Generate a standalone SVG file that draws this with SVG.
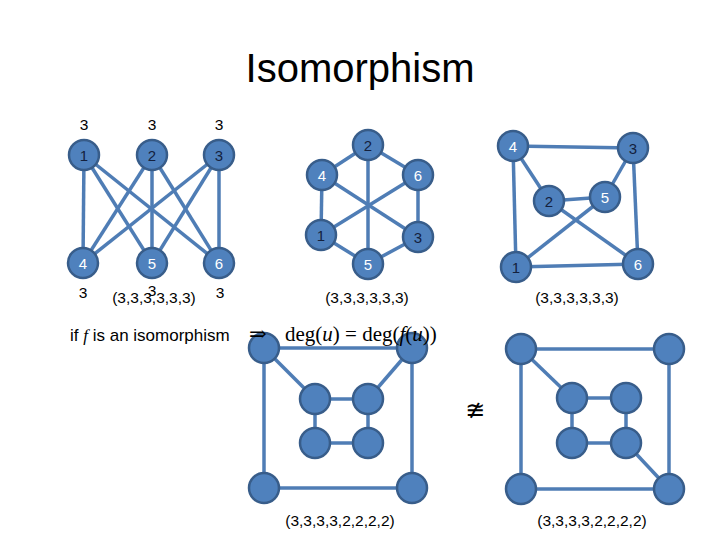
<svg xmlns="http://www.w3.org/2000/svg" width="720" height="540" viewBox="0 0 720 540">
<style>
.e{stroke:#4f7db5;stroke-width:3.5;fill:none}
.n{fill:#4f81bd;stroke:#385d8a;stroke-width:2.5}
.t{font-family:"Liberation Sans","Open Sans",sans-serif;font-size:15px;text-anchor:middle}
.d{fill:#14213d}
.w{fill:#ffffff}
.lab{font-family:"Liberation Sans","Open Sans",sans-serif;font-size:15.5px;fill:#000;text-anchor:middle}
.m{font-family:"Liberation Serif","DejaVu Serif",serif;font-size:21px;fill:#000}
</style>
<rect width="720" height="540" fill="#fff"/>
<text x="360" y="82" font-family="Liberation Sans,Open Sans,sans-serif" font-size="40" text-anchor="middle" fill="#000">Isomorphism</text>

<g id="connectors">
<!-- graph 1 K3,3 -->
<line class="e" x1="84" y1="155" x2="83" y2="263"/>
<line class="e" x1="84" y1="155" x2="152" y2="263"/>
<line class="e" x1="84" y1="155" x2="219" y2="263"/>
<line class="e" x1="152" y1="155" x2="83" y2="263"/>
<line class="e" x1="152" y1="155" x2="152" y2="263"/>
<line class="e" x1="152" y1="155" x2="219" y2="263"/>
<line class="e" x1="219" y1="155" x2="83" y2="263"/>
<line class="e" x1="219" y1="155" x2="152" y2="263"/>
<line class="e" x1="219" y1="155" x2="219" y2="263"/>
<!-- graph 2 -->
<line class="e" x1="368" y1="145" x2="322" y2="175"/>
<line class="e" x1="368" y1="145" x2="418" y2="175"/>
<line class="e" x1="368" y1="145" x2="368" y2="264"/>
<line class="e" x1="322" y1="175" x2="321" y2="235"/>
<line class="e" x1="322" y1="175" x2="418" y2="237"/>
<line class="e" x1="418" y1="175" x2="418" y2="237"/>
<line class="e" x1="418" y1="175" x2="321" y2="235"/>
<line class="e" x1="321" y1="235" x2="368" y2="264"/>
<line class="e" x1="368" y1="264" x2="418" y2="237"/>
<!-- graph 3 -->
<line class="e" x1="513" y1="146" x2="633" y2="148"/>
<line class="e" x1="513" y1="146" x2="549" y2="201"/>
<line class="e" x1="513" y1="146" x2="516" y2="267"/>
<line class="e" x1="633" y1="148" x2="605" y2="197"/>
<line class="e" x1="633" y1="148" x2="638" y2="264"/>
<line class="e" x1="549" y1="201" x2="605" y2="197"/>
<line class="e" x1="549" y1="201" x2="638" y2="264"/>
<line class="e" x1="605" y1="197" x2="516" y2="267"/>
<line class="e" x1="516" y1="267" x2="638" y2="264"/>
<!-- graph 4 -->
<line class="e" x1="264" y1="348" x2="412" y2="348"/>
<line class="e" x1="264" y1="348" x2="264" y2="488"/>
<line class="e" x1="412" y1="348" x2="412" y2="488"/>
<line class="e" x1="264" y1="488" x2="412" y2="488"/>
<line class="e" x1="264" y1="348" x2="315" y2="399"/>
<line class="e" x1="412" y1="348" x2="368" y2="399"/>
<line class="e" x1="315" y1="399" x2="368" y2="399"/>
<line class="e" x1="315" y1="399" x2="315" y2="443"/>
<line class="e" x1="368" y1="399" x2="368" y2="443"/>
<line class="e" x1="315" y1="443" x2="368" y2="443"/>
<!-- graph 5 -->
<line class="e" x1="521" y1="349" x2="669" y2="349"/>
<line class="e" x1="521" y1="349" x2="521" y2="489"/>
<line class="e" x1="669" y1="349" x2="669" y2="489"/>
<line class="e" x1="521" y1="489" x2="669" y2="489"/>
<line class="e" x1="521" y1="349" x2="572" y2="398"/>
<line class="e" x1="626" y1="443" x2="669" y2="489"/>
<line class="e" x1="572" y1="398" x2="626" y2="398"/>
<line class="e" x1="572" y1="398" x2="572" y2="443"/>
<line class="e" x1="626" y1="398" x2="626" y2="443"/>
<line class="e" x1="572" y1="443" x2="626" y2="443"/>
</g>

<!-- graph 1 nodes -->
<g id="g1n1"><circle class="n" cx="84" cy="155" r="15"/><text class="t d" x="84" y="160.5">1</text></g>
<g id="g1n2"><circle class="n" cx="152" cy="155" r="15"/><text class="t d" x="152" y="160.5">2</text></g>
<g id="g1n3"><circle class="n" cx="219" cy="155" r="15"/><text class="t d" x="219" y="160.5">3</text></g>
<g id="g1n4"><circle class="n" cx="83" cy="263" r="15"/><text class="t w" x="83" y="268.5">4</text></g>
<g id="g1n5"><circle class="n" cx="152" cy="263" r="15"/><text class="t w" x="152" y="268.5">5</text></g>
<g id="g1n6"><circle class="n" cx="219" cy="263" r="15"/><text class="t w" x="219" y="268.5">6</text></g>
<!-- graph 2 nodes -->
<g id="g2n2"><circle class="n" cx="368" cy="145" r="15"/><text class="t d" x="368" y="150.5">2</text></g>
<g id="g2n4"><circle class="n" cx="322" cy="175" r="15"/><text class="t w" x="322" y="180.5">4</text></g>
<g id="g2n6"><circle class="n" cx="418" cy="175" r="15"/><text class="t w" x="418" y="180.5">6</text></g>
<g id="g2n1"><circle class="n" cx="321" cy="235" r="15"/><text class="t d" x="321" y="240.5">1</text></g>
<g id="g2n3"><circle class="n" cx="418" cy="237" r="15"/><text class="t d" x="418" y="242.5">3</text></g>
<g id="g2n5"><circle class="n" cx="368" cy="264" r="15"/><text class="t w" x="368" y="269.5">5</text></g>
<!-- graph 3 nodes -->
<g id="g3n4"><circle class="n" cx="513" cy="146" r="15"/><text class="t w" x="513" y="151.5">4</text></g>
<g id="g3n3"><circle class="n" cx="633" cy="148" r="15"/><text class="t d" x="633" y="153.5">3</text></g>
<g id="g3n2"><circle class="n" cx="549" cy="201" r="15"/><text class="t d" x="549" y="206.5">2</text></g>
<g id="g3n5"><circle class="n" cx="605" cy="197" r="15"/><text class="t w" x="605" y="202.5">5</text></g>
<g id="g3n1"><circle class="n" cx="516" cy="267" r="15"/><text class="t d" x="516" y="272.5">1</text></g>
<g id="g3n6"><circle class="n" cx="638" cy="264" r="15"/><text class="t w" x="638" y="269.5">6</text></g>
<!-- graph 4 nodes -->
<g id="g4a"><circle class="n" cx="264" cy="348" r="15"/></g>
<g id="g4b"><circle class="n" cx="412" cy="348" r="15"/></g>
<g id="g4c"><circle class="n" cx="264" cy="488" r="15"/></g>
<g id="g4d"><circle class="n" cx="412" cy="488" r="15"/></g>
<g id="g4e"><circle class="n" cx="315" cy="399" r="15"/></g>
<g id="g4f"><circle class="n" cx="368" cy="399" r="15"/></g>
<g id="g4g"><circle class="n" cx="315" cy="443" r="15"/></g>
<g id="g4h"><circle class="n" cx="368" cy="443" r="15"/></g>
<!-- graph 5 nodes -->
<g id="g5a"><circle class="n" cx="521" cy="349" r="15"/></g>
<g id="g5b"><circle class="n" cx="669" cy="349" r="15"/></g>
<g id="g5c"><circle class="n" cx="521" cy="489" r="15"/></g>
<g id="g5d"><circle class="n" cx="669" cy="489" r="15"/></g>
<g id="g5e"><circle class="n" cx="572" cy="398" r="15"/></g>
<g id="g5f"><circle class="n" cx="626" cy="398" r="15"/></g>
<g id="g5g"><circle class="n" cx="572" cy="443" r="15"/></g>
<g id="g5h"><circle class="n" cx="626" cy="443" r="15"/></g>

<!-- labels -->
<g id="labels">
<text class="lab" x="84" y="130">3</text>
<text class="lab" x="152" y="130">3</text>
<text class="lab" x="219" y="130">3</text>
<text class="lab" x="83" y="298">3</text>
<text class="lab" x="152" y="296">3</text>
<text class="lab" x="220" y="298">3</text>
<text class="lab" x="154" y="303">(3,3,3,3,3,3)</text>
<text class="lab" x="367" y="303">(3,3,3,3,3,3)</text>
<text class="lab" x="577" y="303">(3,3,3,3,3,3)</text>
<text class="lab" x="340" y="526">(3,3,3,3,2,2,2,2)</text>
<text class="lab" x="592" y="526">(3,3,3,3,2,2,2,2)</text>
<text font-family="Liberation Sans,Open Sans,sans-serif" font-size="17" x="70" y="341" fill="#000">if <tspan font-family="Liberation Serif,serif" font-style="italic">f</tspan> is an isomorphism</text>
<text class="m" x="249" y="341">⇒</text>
<text class="m" x="285" y="341">deg(<tspan font-style="italic">u</tspan>) = deg(<tspan font-style="italic">f</tspan>(<tspan font-style="italic">u</tspan>))</text>
<text font-family="DejaVu Sans,sans-serif" font-size="24" x="475" y="418" text-anchor="middle" fill="#000">≇</text>
</g>
</svg>
